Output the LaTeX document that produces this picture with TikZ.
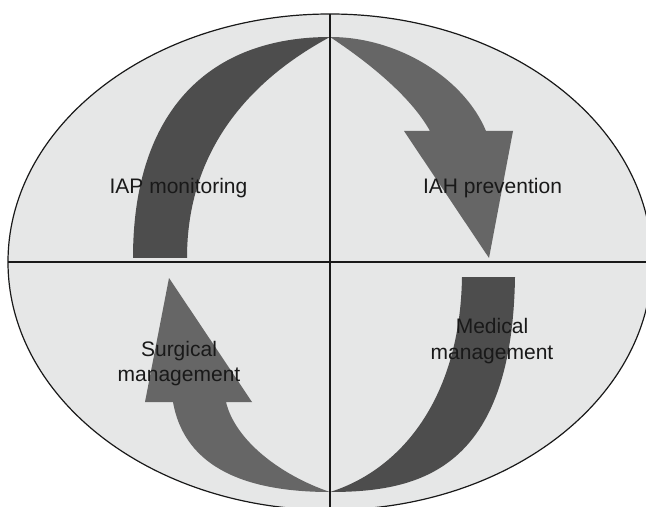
\documentclass[tikz,border=0pt]{standalone}
\usepackage{fontspec}
\setmainfont{Liberation Sans}
\usepackage{tikz}
\usetikzlibrary{positioning}
\definecolor{bgfill}{HTML}{E6E7E7}
\definecolor{darkarr}{HTML}{4D4D4D}
\definecolor{lightarr}{HTML}{666666}

\begin{document}
\begin{tikzpicture}
[   x=0.5pt, y=-0.5pt,
    lbl/.style={font=\fontsize{10.5}{12.75}\selectfont, text=black!90, align=center, inner sep=0pt},
    axis/.style={draw=black!90, line width=0.6pt}, ]
    \useasboundingbox (0,0) rectangle (646,507);
    \clip (0,0) rectangle (646,507);
    \fill[bgfill] (330,262) ellipse [x radius=161pt, y radius=124pt];

    % upper left, dark
    \fill[darkarr] (133,258) .. controls (133,110) and (210,37) .. (330,37)
        .. controls (250,80) and (187,150) .. (187,258) -- cycle;
    % upper right, with head
    \fill[lightarr] (330,37) .. controls (400,37) and (465,80) .. (486,131)
        -- (513,131) -- (489,258) -- (404,131) -- (430,131)
        .. controls (410,95) and (365,60) .. (330,37) -- cycle;
    % lower right, dark
    \fill[darkarr] (462,277) -- (515,277) .. controls (512,470) and (420,492) .. (330,492)
        .. controls (400,470) and (460,400) .. (462,277) -- cycle;
    % lower left, with head
    \fill[lightarr] (330,492) .. controls (250,492) and (185,470) .. (173,402)
        -- (145,402) -- (169,278) -- (252,402) -- (226,402)
        .. controls (235,440) and (280,475) .. (330,492) -- cycle;

    \draw[axis] (330,262) ellipse [x radius=161pt, y radius=124pt];
    \draw[axis] (8,262) -- (652,262);
    \draw[axis] (330,14) -- (330,510);

    \node[lbl, anchor=base] (monitor) at (178.5,194) {IAP monitoring};
    \node[lbl, anchor=base] (prevent) at (492.5,194) {IAH prevention};
    \node[lbl] (surgical) at (179,363.5) {Surgical\\management};
    \node[lbl] (medical) at (492,341) {Medical\\management};
\end{tikzpicture}
\end{document}
